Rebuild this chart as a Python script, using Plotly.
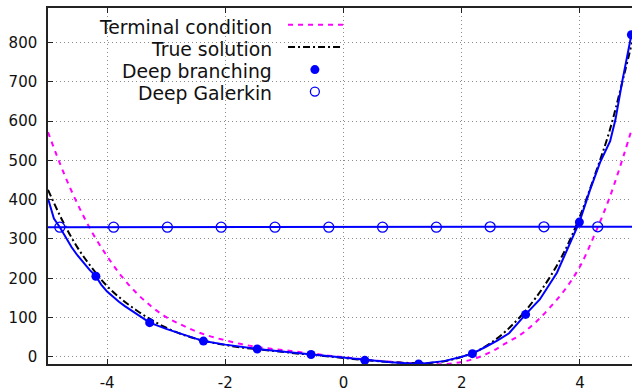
import plotly.graph_objects as go

# ---- data ----
curve_x = [-5.0, -4.75, -4.5, -4.25, -4.0, -3.75, -3.5, -3.25, -3.0, -2.75, -2.5, -2.25, -2.0,
           -1.75, -1.5, -1.25, -1.0, -0.75, -0.5, -0.25, 0.0, 0.25, 0.5, 0.75, 1.0, 1.25, 1.5,
           1.75, 2.0, 2.25, 2.5, 2.75, 3.0, 3.25, 3.5, 3.75, 4.0, 4.25, 4.5, 4.75, 4.88]
terminal_y = [572, 474, 389, 316, 256, 204, 162, 128, 101, 82, 65, 52, 42, 33, 26, 21, 17, 12, 8, 3,
              -1, -5, -9, -12, -15, -17, -19, -18, -13, -3, 13, 35, 57, 88, 127, 172, 230, 312, 405,
              518, 582]
true_y = [425, 345, 278, 225, 180, 146, 118, 94, 74, 58, 46, 37, 30, 24, 20, 16, 12, 8, 5, 1,
          -3, -7, -10, -13, -15, -16, -15, -10, 0, 14, 36, 66, 104, 150, 205, 272, 358, 462, 575,
          720, 800]

branch_line_x = [-5.0, -4.9, -4.8, -4.7, -4.6, -4.5, -4.4, -4.3, -4.19, -4.1, -4.0, -3.9, -3.8,
                 -3.7, -3.6, -3.5, -3.4, -3.28, -3.0, -2.75, -2.5, -2.37, -2.0, -1.75, -1.46, -1.0,
                 -0.55, 0.0, 0.36, 0.8, 1.27, 1.7, 2.0, 2.18, 2.4, 2.6, 2.8, 3.08, 3.32, 3.61, 3.99,
                 4.17, 4.34, 4.51, 4.6, 4.72, 4.87]
branch_line_y = [403, 352, 330, 305, 279, 258, 239, 222, 205, 184, 166, 152, 140, 129, 119, 110,
                 100, 87, 71, 58, 46, 40, 31, 26, 20, 13, 6, -3, -9, -14, -18, -11, 0, 8, 25, 41,
                 60, 108, 146, 214, 343, 425, 495, 549, 604, 705, 820]
branch_pts_x = [-4.19, -3.28, -2.37, -1.46, -0.55, 0.36, 1.27, 2.18, 3.08, 3.99, 4.87]
branch_pts_y = [205, 87, 40, 20, 6, -9, -18, 8, 108, 343, 820]

galerkin_line_x = [-5.0, 4.88]
galerkin_line_y = [330, 331]
galerkin_pts_x = [-4.80, -3.89, -2.98, -2.07, -1.16, -0.25, 0.66, 1.57, 2.48, 3.39, 4.30]
galerkin_pts_y = [330, 330, 330, 330, 330, 330, 330, 330, 331, 331, 331]

x_ticks = [-4, -2, 0, 2, 4]
y_ticks = [0, 100, 200, 300, 400, 500, 600, 700, 800]

legend_names = ["Terminal condition", "True solution", "Deep branching", "Deep Galerkin"]

BLUE = "#0000ff"
MAGENTA = "#ff00ff"
FONT = "DejaVu Sans"
X_RANGE = [-5, 4.88]
Y_RANGE = [-18.3, 888]

fig = go.Figure()
fig.add_trace(go.Scatter(x=curve_x, y=terminal_y, mode="lines", line_shape="spline",
                         line=dict(color=MAGENTA, width=2, dash="5px,5px"), showlegend=False))
fig.add_trace(go.Scatter(x=curve_x, y=true_y, mode="lines", line_shape="spline",
                         line=dict(color="black", width=2, dash="7px,3px,2px,3px"), showlegend=False))
fig.add_trace(go.Scatter(x=branch_line_x, y=branch_line_y, mode="lines",
                         line=dict(color=BLUE, width=2), showlegend=False))
fig.add_trace(go.Scatter(x=branch_pts_x, y=branch_pts_y, mode="markers",
                         marker=dict(color=BLUE, size=9, symbol="circle"), showlegend=False))
fig.add_trace(go.Scatter(x=galerkin_line_x, y=galerkin_line_y, mode="lines",
                         line=dict(color=BLUE, width=2), showlegend=False))
fig.add_trace(go.Scatter(x=galerkin_pts_x, y=galerkin_pts_y, mode="markers",
                         marker=dict(color=BLUE, size=10, symbol="circle-open", line=dict(width=1.3)),
                         showlegend=False))

# ---- opaque key background (hides grid behind the key, like gnuplot) ----
fig.add_shape(type="rect", xref="paper", yref="paper", x0=0.0, x1=(353 - 48) / 584,
              y0=(364 - 125) / 356, y1=1.0, layer="between",
              fillcolor="white", line=dict(width=0))

# ---- gnuplot-style key (text right-aligned, sample to the right) ----
key_y = [0.9466, 0.8848, 0.823, 0.7612]
for name, yy in zip(legend_names, key_y):
    fig.add_annotation(xref="paper", yref="paper", x=0.387, y=yy, text=name, showarrow=False,
                       xanchor="right", yanchor="middle", font=dict(family=FONT, size=18.8, color="#111"))
fig.add_shape(type="line", xref="paper", yref="paper", x0=0.411, x1=0.505, y0=key_y[0] + 0.006,
              y1=key_y[0] + 0.006, line=dict(color=MAGENTA, width=2, dash="5px,5px"))
fig.add_shape(type="line", xref="paper", yref="paper", x0=0.411, x1=0.505, y0=key_y[1] + 0.006,
              y1=key_y[1] + 0.006, line=dict(color="black", width=2, dash="7px,3px,2px,3px"))
fig.add_shape(type="circle", xref="paper", yref="paper", xsizemode="pixel", ysizemode="pixel",
              xanchor=0.457, yanchor=key_y[2] + 0.004, x0=-4.5, x1=4.5, y0=-4.5, y1=4.5,
              fillcolor=BLUE, line=dict(color=BLUE, width=0))
fig.add_shape(type="circle", xref="paper", yref="paper", xsizemode="pixel", ysizemode="pixel",
              xanchor=0.457, yanchor=key_y[3] + 0.004, x0=-4.5, x1=4.5, y0=-4.5, y1=4.5,
              fillcolor="rgba(0,0,0,0)", line=dict(color=BLUE, width=1.3))

axis_common = dict(showgrid=True, gridcolor="#8c8c8c", griddash="1px,3px", gridwidth=1,
                   zeroline=False, showline=True, linecolor="#222", linewidth=1.5,
                   ticks="inside", ticklen=5, tickcolor="#222", tickwidth=1,
                   tickfont=dict(family=FONT, size=15, color="#111"))

fig.update_xaxes(range=X_RANGE, tickvals=x_ticks, ticktext=[str(v) for v in x_ticks],
                 mirror="ticks", ticklabelstandoff=4, **axis_common)
fig.update_yaxes(range=Y_RANGE, tickvals=y_ticks, ticktext=[str(v) for v in y_ticks],
                 mirror=False, ticklabelstandoff=6, **axis_common)

fig.update_layout(width=632, height=391, margin=dict(l=48, r=0, t=8, b=27, autoexpand=False),
                  paper_bgcolor="white", plot_bgcolor="white", showlegend=False,
                  font=dict(family=FONT))
fig.write_html("out.html")
